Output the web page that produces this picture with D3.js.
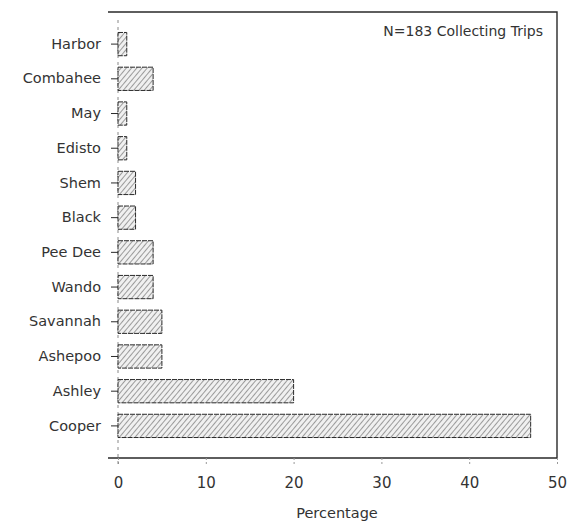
<!DOCTYPE html>
<html>
<head>
<meta charset="utf-8">
<script src="https://cdn.jsdelivr.net/npm/d3@7"></script>
<style>
  body { margin: 0; background: #fff; }
  svg text { font-family: "DejaVu Sans", sans-serif; fill: #333; }
</style>
</head>
<body>
<div id="chart"></div>
<script>
// rivers, top to bottom, with percentage of collecting trips
const rivers = ['Harbor', 'Combahee', 'May', 'Edisto', 'Shem', 'Black',
  'Pee Dee', 'Wando', 'Savannah', 'Ashepoo', 'Ashley', 'Cooper'];
const percents = [1, 4, 1, 1, 2, 2, 4, 4, 5, 5, 20, 47];
const xTicks = [0, 10, 20, 30, 40, 50];
const note = 'N=183 Collecting Trips';
const xTitle = 'Percentage';

const width = 567;
const height = 524;
const ink = '#2a2a2a';

const data = rivers.map((r, i) => ({ river: r, value: percents[i] }));

const svg = d3.select('#chart').append('svg')
  .attr('width', width)
  .attr('height', height);

// hatch fill like the scanned original
const defs = svg.append('defs');
const pat = defs.append('pattern')
  .attr('id', 'hatch')
  .attr('patternUnits', 'userSpaceOnUse')
  .attr('width', 4).attr('height', 4)
  .attr('patternTransform', 'rotate(40)');
pat.append('rect').attr('width', 4).attr('height', 4).attr('fill', '#f0f0f0');
pat.append('line')
  .attr('x1', 0).attr('y1', 0).attr('x2', 0).attr('y2', 4)
  .attr('stroke', '#555').attr('stroke-width', 1.1);

const x = d3.scaleLinear().domain([0, 50]).range([118, 557]);
const y = d3.scaleBand().domain(rivers).range([12, 458])
  .paddingInner(0.33).paddingOuter(0.59);

// frame: top, right, bottom
svg.append('path')
  .attr('d', `M108,12 H557 V458 H108`)
  .attr('fill', 'none')
  .attr('stroke', ink)
  .attr('stroke-width', 1.4);

// x axis ticks below the bottom line
const xAxis = svg.append('g')
  .attr('transform', 'translate(0,458)')
  .call(d3.axisBottom(x).tickValues(xTicks).tickSize(8).tickPadding(11));
xAxis.select('.domain').remove();
xAxis.selectAll('.tick line').attr('stroke', '#999').attr('stroke-dasharray', '2,2');
xAxis.selectAll('.tick text').style('font-size', '15px');

// y axis at zero
const yAxis = svg.append('g')
  .attr('transform', 'translate(118,0)')
  .call(d3.axisLeft(y).tickSize(7).tickPadding(10).tickSizeOuter(0));
yAxis.select('.domain')
  .attr('d', 'M0,20 V468')
  .attr('stroke', '#888')
  .attr('stroke-dasharray', '3,4');
yAxis.selectAll('.tick line').attr('stroke', ink);
yAxis.selectAll('.tick text').style('font-size', '14.5px');

// bars
svg.append('g').selectAll('rect')
  .data(data)
  .join('rect')
  .attr('x', x(0))
  .attr('y', d => y(d.river))
  .attr('width', d => x(d.value) - x(0))
  .attr('height', y.bandwidth())
  .attr('fill', 'url(#hatch)')
  .attr('stroke', ink)
  .attr('stroke-width', 1)
  .attr('stroke-dasharray', '5,1');

svg.append('text')
  .attr('x', 543).attr('y', 36)
  .attr('text-anchor', 'end')
  .style('font-size', '14px')
  .text(note);

svg.append('text')
  .attr('x', 337).attr('y', 518)
  .attr('text-anchor', 'middle')
  .style('font-size', '14.5px')
  .text(xTitle);
</script>
</body>
</html>
